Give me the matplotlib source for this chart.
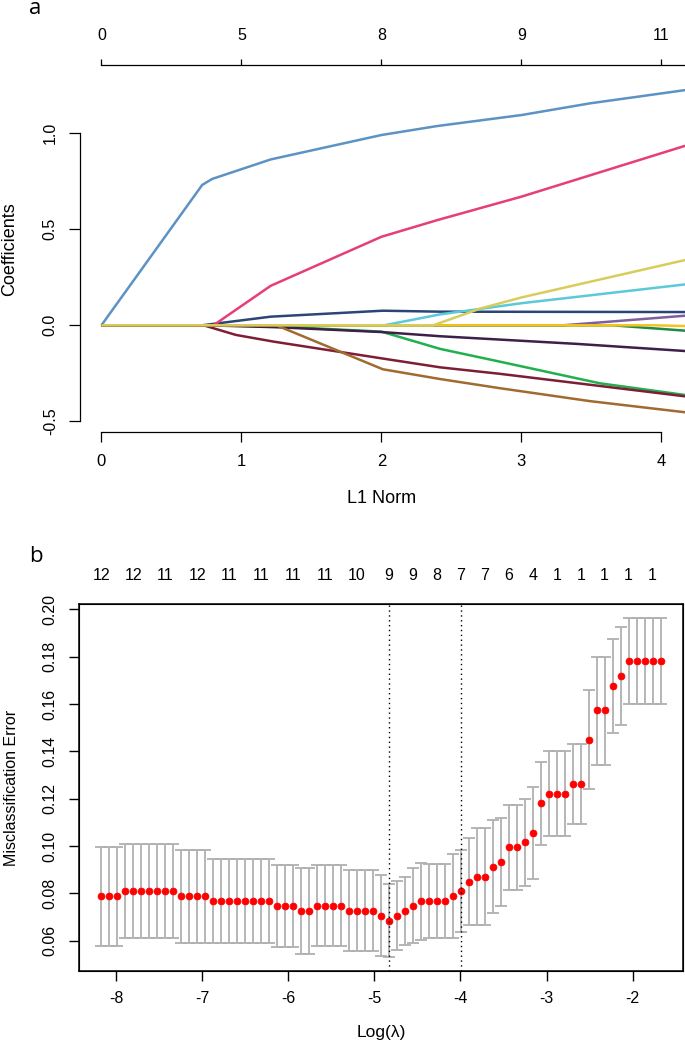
import matplotlib
matplotlib.use('Agg')
import matplotlib.pyplot as plt

plt.rcParams['font.family'] = ['Liberation Sans', 'DejaVu Sans']
plt.rcParams['axes.unicode_minus'] = False

# ---------------- Panel a data (lasso coefficient paths) ----------------
l1_ticks = [0, 1, 2, 3, 4]
df_labels = ['0', '5', '8', '9', '11']
coef_ticks = [-0.5, 0.0, 0.5, 1.0]

l1_blue = [0, 0.72, 0.79, 1.21, 2.0, 2.4, 3.0, 3.49, 4.17]
coef_blue = [0, 0.731, 0.762, 0.864, 0.991, 1.038, 1.095, 1.156, 1.225]

l1_pink = [0, 0.80, 1.21, 2.0, 2.4, 3.0, 4.17]
coef_pink = [0, 0.0, 0.206, 0.461, 0.548, 0.670, 0.935]

l1_navy = [0, 0.72, 1.21, 2.01, 2.42, 4.17]
coef_navy = [0, 0.0, 0.045, 0.076, 0.071, 0.069]

l1_cyan = [0, 2.02, 2.42, 3.0, 4.17]
coef_cyan = [0, 0.0, 0.057, 0.115, 0.213]

l1_purple = [0, 3.3, 4.17]
coef_purple = [0, 0.0, 0.05]

l1_darkgreen = [0, 3.65, 4.17]
coef_darkgreen = [0, 0.0, -0.028]

l1_gold = [0, 3.95, 4.17]
coef_gold = [0, 0.0, -0.004]

l1_plum = [0, 0.76, 1.25, 2.0, 2.42, 3.4, 4.17]
coef_plum = [0, 0.0, -0.010, -0.035, -0.057, -0.097, -0.134]

l1_maroon = [0, 0.73, 0.96, 1.23, 2.0, 2.42, 2.85, 4.17]
coef_maroon = [0, 0.0, -0.050, -0.085, -0.172, -0.219, -0.253, -0.370]

l1_brown = [0, 1.25, 2.01, 2.42, 2.85, 3.49, 4.17]
coef_brown = [0, 0.0, -0.229, -0.280, -0.328, -0.395, -0.453]

l1_green = [0, 0.75, 1.25, 2.0, 2.42, 2.85, 3.56, 4.17]
coef_green = [0, 0.0, -0.006, -0.033, -0.123, -0.190, -0.302, -0.363]

l1_olive = [0, 2.37, 2.71, 3.0, 4.17]
coef_olive = [0, 0.0, 0.088, 0.145, 0.340]

# ---------------- Panel b data (cross-validation) ----------------
log_lambda = [
    -8.170, -8.077, -7.984, -7.892, -7.799, -7.706, -7.613, -7.521, -7.428, -7.335,
    -7.242, -7.149, -7.057, -6.964, -6.871, -6.778, -6.686, -6.593, -6.500, -6.407,
    -6.315, -6.222, -6.129, -6.036, -5.944, -5.851, -5.758, -5.665, -5.573, -5.480,
    -5.387, -5.294, -5.201, -5.109, -5.016, -4.923, -4.830, -4.738, -4.645, -4.552,
    -4.459, -4.366, -4.274, -4.181, -4.088, -3.995, -3.903, -3.810, -3.717, -3.624,
    -3.532, -3.439, -3.346, -3.253, -3.160, -3.068, -2.975, -2.882, -2.789, -2.697,
    -2.604, -2.511, -2.418, -2.326, -2.233, -2.140, -2.047, -1.955, -1.862, -1.769,
    -1.676]
cv_mean = [
    0.0787, 0.0787, 0.0787, 0.0808, 0.0808, 0.0808, 0.0808, 0.0808, 0.0808, 0.0808,
    0.0787, 0.0787, 0.0787, 0.0787, 0.0766, 0.0766, 0.0766, 0.0766, 0.0766, 0.0766,
    0.0766, 0.0766, 0.0745, 0.0745, 0.0745, 0.0725, 0.0725, 0.0745, 0.0745, 0.0745,
    0.0745, 0.0725, 0.0725, 0.0725, 0.0725, 0.0704, 0.0683, 0.0704, 0.0725, 0.0745,
    0.0766, 0.0766, 0.0766, 0.0766, 0.0787, 0.0808, 0.0849, 0.0870, 0.0870, 0.0911,
    0.0932, 0.0994, 0.0994, 0.1015, 0.1056, 0.1180, 0.1221, 0.1221, 0.1221, 0.1263,
    0.1263, 0.1449, 0.1573, 0.1573, 0.1677, 0.1718, 0.1780, 0.1780, 0.1780, 0.1780,
    0.1780]
cv_upper = [
    0.0997, 0.0997, 0.0997, 0.1009, 0.1009, 0.1009, 0.1009, 0.1009, 0.1009, 0.1009,
    0.0983, 0.0983, 0.0983, 0.0983, 0.0943, 0.0943, 0.0943, 0.0943, 0.0943, 0.0943,
    0.0943, 0.0943, 0.0920, 0.0920, 0.0920, 0.0908, 0.0908, 0.0918, 0.0918, 0.0918,
    0.0918, 0.0897, 0.0897, 0.0897, 0.0897, 0.0878, 0.0838, 0.0851, 0.0869, 0.0905,
    0.0929, 0.0922, 0.0922, 0.0922, 0.0964, 0.0982, 0.1035, 0.1075, 0.1075, 0.1109,
    0.1119, 0.1175, 0.1175, 0.1199, 0.1251, 0.1355, 0.1401, 0.1401, 0.1401, 0.1430,
    0.1430, 0.1657, 0.1800, 0.1800, 0.1874, 0.1924, 0.1965, 0.1965, 0.1965, 0.1965,
    0.1965]
cv_lower = [
    0.0578, 0.0578, 0.0578, 0.0609, 0.0609, 0.0609, 0.0609, 0.0609, 0.0609, 0.0609,
    0.0591, 0.0591, 0.0591, 0.0591, 0.0589, 0.0589, 0.0589, 0.0589, 0.0589, 0.0589,
    0.0589, 0.0589, 0.0571, 0.0571, 0.0571, 0.0545, 0.0545, 0.0576, 0.0576, 0.0576,
    0.0576, 0.0555, 0.0555, 0.0555, 0.0555, 0.0533, 0.0529, 0.0561, 0.0582, 0.0590,
    0.0603, 0.0612, 0.0612, 0.0612, 0.0613, 0.0637, 0.0665, 0.0665, 0.0665, 0.0717,
    0.0745, 0.0813, 0.0813, 0.0831, 0.0862, 0.1003, 0.1041, 0.1041, 0.1041, 0.1093,
    0.1093, 0.1241, 0.1344, 0.1344, 0.1479, 0.1513, 0.1599, 0.1599, 0.1599, 0.1599,
    0.1599]
nzero_index = [0, 4, 8, 12, 16, 20, 24, 28, 32, 36, 39, 42, 45, 48, 51, 54, 57, 60, 63, 66, 69]
nzero_labels = ['12', '12', '11', '12', '11', '11', '11', '11', '10', '9', '9', '8',
                '7', '7', '6', '4', '1', '1', '1', '1', '1']
index_lambda_min = 36
index_lambda_1se = 45
err_ticks_x = [-8, -7, -6, -5, -4, -3, -2]
err_ticks_y = [0.06, 0.08, 0.10, 0.12, 0.14, 0.16, 0.18, 0.20]

# ---------------- styles ----------------
W, H = 685, 1046
fig = plt.figure(figsize=(W / 100, H / 100), dpi=100)


def fx(px):
    return px / W


def fy(py):
    return 1 - py / H


paths = [
    (l1_blue, coef_blue, '#5D92C4'),
    (l1_navy, coef_navy, '#2C4576'),
    (l1_pink, coef_pink, '#E63E78'),
    (l1_cyan, coef_cyan, '#5CC9D9'),
    (l1_purple, coef_purple, '#7D5F9B'),
    (l1_darkgreen, coef_darkgreen, '#1B8A4B'),
    (l1_gold, coef_gold, '#F4C51C'),
    (l1_green, coef_green, '#20B04E'),
    (l1_plum, coef_plum, '#3E1F4A'),
    (l1_maroon, coef_maroon, '#7E1D36'),
    (l1_brown, coef_brown, '#A06A30'),
    (l1_olive, coef_olive, '#D8CD5B'),
]

# ---------------- Panel a ----------------
ax_a = fig.add_axes([fx(80), fy(432), fx(685) - fx(80), fy(65) - fy(432)])
for xs, ys, col in paths:
    ax_a.plot(xs, ys, color=col, lw=1.8, solid_capstyle='butt')
x0_px, xpx_per = 101.4, 140.0
ax_a.set_xlim((80 - x0_px) / xpx_per, (685 - x0_px) / xpx_per)
y0_px, ypx_per = 325.3, 192.0
ax_a.set_ylim((y0_px - 432) / ypx_per, (y0_px - 65) / ypx_per)
ax_a.spines['right'].set_visible(False)
ax_a.spines['top'].set_visible(False)
ax_a.spines['left'].set_bounds(coef_ticks[0], coef_ticks[-1])
ax_a.spines['bottom'].set_bounds(l1_ticks[0], l1_ticks[-1])
for s in ('left', 'bottom'):
    ax_a.spines[s].set_linewidth(0.9)
ax_a.set_xticks(l1_ticks)
ax_a.set_xticklabels([str(v) for v in l1_ticks])
ax_a.set_yticks(coef_ticks)
ax_a.set_yticklabels(['%.1f' % v for v in coef_ticks], rotation=90, va='center')
ax_a.tick_params(axis='x', direction='out', length=7, width=0.9, labelsize=12, pad=8.5)
ax_a.tick_params(axis='y', direction='out', length=8, width=0.9, labelsize=11.5, pad=8)
ax_a.set_xlabel('L1 Norm', fontsize=13)
ax_a.xaxis.set_label_coords(fx(381.4), fy(490), transform=fig.transFigure)
ax_a.set_ylabel('Coefficients', fontsize=13)
ax_a.yaxis.set_label_coords(fx(18.5), fy(249), transform=fig.transFigure)

ax_a_top = ax_a.twiny()
ax_a_top.set_xlim(ax_a.get_xlim())
for s in ('left', 'right', 'bottom'):
    ax_a_top.spines[s].set_visible(False)
ax_a_top.spines['top'].set_bounds(l1_ticks[0], ax_a.get_xlim()[1])
ax_a_top.spines['top'].set_linewidth(0.9)
ax_a_top.set_xticks(l1_ticks)
ax_a_top.set_xticklabels(df_labels)
ax_a_top.tick_params(axis='x', direction='out', length=4, width=0.9, labelsize=11.5, pad=12)

fig.text(fx(29), fy(14), 'a', fontsize=16, family=['Open Sans', 'DejaVu Sans'],
         ha='left', va='baseline')

# ---------------- Panel b ----------------
ax_b = fig.add_axes([fx(79), fy(971), fx(683) - fx(79), fy(604) - fy(971)])
err_low = [m - lo for m, lo in zip(cv_mean, cv_lower)]
err_high = [up - m for m, up in zip(cv_mean, cv_upper)]
ax_b.errorbar(log_lambda, cv_mean, yerr=[err_low, err_high], fmt='none',
              ecolor='#B0B0B0', elinewidth=1.3, capsize=4.2, capthick=1.3, zorder=2)
ax_b.plot(log_lambda, cv_mean, 'o', color='red', ms=5, mec='red', mew=0.5, zorder=3)
for idx in (index_lambda_min, index_lambda_1se):
    ax_b.axvline(log_lambda[idx], color='black', lw=1.0, ls=(0, (1, 2.5)), zorder=4)

xr = max(log_lambda) - min(log_lambda)
ax_b.set_xlim(min(log_lambda) - 0.04 * xr, max(log_lambda) + 0.04 * xr)
yr = max(cv_upper) - min(cv_lower)
ax_b.set_ylim(min(cv_lower) - 0.04 * yr, max(cv_upper) + 0.04 * yr)
for s in ax_b.spines.values():
    s.set_linewidth(1.1)
ax_b.set_xticks(err_ticks_x)
ax_b.set_xticklabels([str(v) for v in err_ticks_x])
ax_b.set_yticks(err_ticks_y)
ax_b.set_yticklabels(['%.2f' % v for v in err_ticks_y], rotation=90, va='center')
ax_b.tick_params(axis='x', direction='out', length=7, width=1.0, labelsize=11.5, pad=7.5)
ax_b.tick_params(axis='y', direction='out', length=7.5, width=1.0, labelsize=11.5, pad=8)
ax_b.set_xlabel('Log(λ)', fontsize=12.5)
ax_b.xaxis.set_label_coords(fx(381), fy(1025), transform=fig.transFigure)
ax_b.set_ylabel('Misclassification Error', fontsize=11.5)
ax_b.yaxis.set_label_coords(fx(19), fy(787.5), transform=fig.transFigure)

ax_b_top = ax_b.twiny()
ax_b_top.set_xlim(ax_b.get_xlim())
ax_b_top.set_xticks([log_lambda[i] for i in nzero_index])
ax_b_top.set_xticklabels(nzero_labels)
ax_b_top.tick_params(axis='x', length=0, labelsize=11.5, pad=15)

fig.text(fx(29), fy(562), 'b', fontsize=16, family=['Open Sans', 'DejaVu Sans'],
         ha='left', va='baseline')

fig.savefig('out.png', dpi=100)
